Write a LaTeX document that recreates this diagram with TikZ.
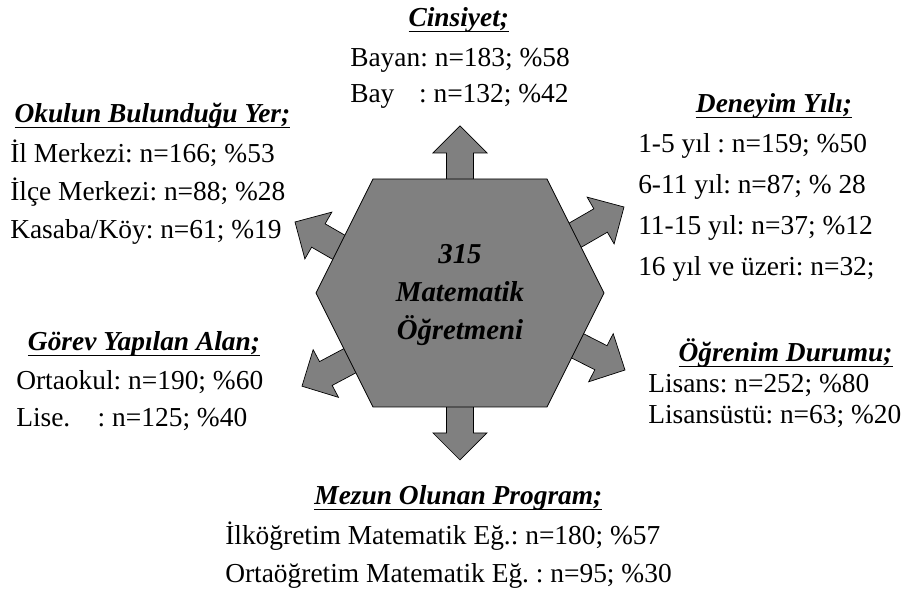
\documentclass[tikz,border=0pt]{standalone}
\usepackage{fontspec}
\setmainfont{Liberation Serif}
\frenchspacing
\usetikzlibrary{positioning}

\newsavebox{\ulbox}
\newcommand{\ulhead}[1]{\sbox{\ulbox}{#1}\rlap{\rule[-3.8pt]{\wd\ulbox}{1.1pt}}\usebox{\ulbox}}

\tikzset{
  item/.style={font=\fontsize{19.5}{24}\selectfont, inner sep=0pt, anchor=base west},
  head/.style={font=\fontsize{19.5}{24}\selectfont\bfseries\itshape, inner sep=0pt, anchor=base},
  hexbody/.style={draw=black, fill=gray, line width=0.6pt},
  arrowbody/.style={draw=black, fill=gray, line width=0.5pt},
  fatarrow/.pic={
    \draw[arrowbody] (0,0) -- (-0.675,0.675) -- (-0.675,0.3375) -- (-1.6,0.3375)
      -- (-1.6,-0.3375) -- (-0.675,-0.3375) -- (-0.675,-0.675) -- cycle;
  }
}

\begin{document}
\begin{tikzpicture}
\useasboundingbox (-11.5,7.325) rectangle (11.125,-7.55);

% Arrows out of the hexagon
\pic[rotate=90] at (0,4.175) {fatarrow};
\pic[rotate=-90] at (0,-4.175) {fatarrow};
\pic[rotate=30] at (4.1,2.15) {fatarrow};
\pic[rotate=150] at (-4.125,1.775) {fatarrow};
\pic[rotate=-27] at (4.125,-1.925) {fatarrow};
\pic[rotate=-152] at (-3.95,-2.33) {fatarrow};

% Hexagon
\draw[hexbody] (-2.175,2.85) -- (2.175,2.85) -- (3.6,0) -- (2.175,-2.85) -- (-2.175,-2.85) -- (-3.6,0) -- cycle;
\node[font=\fontsize{20.5}{27}\selectfont\bfseries\itshape, align=center] (hub) at (0,-0.05) {315\\Matematik\\Öğretmeni};

% Cinsiyet
\node[head] (cins) at (-0.03,6.65) {\ulhead{Cinsiyet;}};
\node[item] (bayan) at (-2.75,5.65) {Bayan: n=183; \%58};
\node[item] (bay) at ([yshift=-0.9cm]bayan.base west) {Bay\hspace{0.9em}: n=132; \%42};

% Okulun Bulundugu Yer
\node[head] (okul) at (-7.69,4.25) {\ulhead{Okulun Bulunduğu Yer;}};
\node[item] (il) at (-11.25,3.25) {İl Merkezi: n=166; \%53};
\node[item] (ilce) at ([yshift=-0.94cm]il.base west) {İlçe Merkezi: n=88; \%28};
\node[item] (koy) at ([yshift=-0.94cm]ilce.base west) {Kasaba/Köy: n=61; \%19};

% Deneyim Yili
\node[head] (deneyim) at (7.85,4.5) {\ulhead{Deneyim Yılı;}};
\node[item] (yil1) at (4.45,3.5) {1-5 yıl : n=159; \%50};
\node[item] (yil2) at ([yshift=-1.02cm]yil1.base west) {6-11 yıl: n=87; \% 28};
\node[item] (yil3) at ([yshift=-1.02cm]yil2.base west) {11-15 yıl: n=37; \%12};
\node[item] (yil4) at ([yshift=-1.02cm]yil3.base west) {16 yıl ve üzeri: n=32;};

% Gorev Yapilan Alan
\node[head] (gorev) at (-7.9,-1.45) {\ulhead{Görev Yapılan Alan;}};
\node[item] (orta) at (-11.1,-2.425) {Ortaokul: n=190; \%60};
\node[item] (lise) at ([yshift=-0.925cm]orta.base west) {Lise.\hspace{1em}: n=125; \%40};

% Ogrenim Durumu
\node[head] (ogrenim) at (8.14,-1.725) {\ulhead{Öğrenim Durumu;}};
\node[item] (lisans) at (4.7,-2.5) {Lisans: n=252; \%80};
\node[item] (yuksek) at ([yshift=-0.775cm]lisans.base west) {Lisansüstü: n=63; \%20};

% Mezun Olunan Program
\node[head] (mezun) at (-0.04,-5.3) {\ulhead{Mezun Olunan Program;}};
\node[item] (ilkog) at (-5.875,-6.3) {İlköğretim Matematik Eğ.: n=180; \%57};
\node[item] (ortaog) at ([yshift=-0.95cm]ilkog.base west) {Ortaöğretim Matematik Eğ. : n=95; \%30};
\end{tikzpicture}
\end{document}
